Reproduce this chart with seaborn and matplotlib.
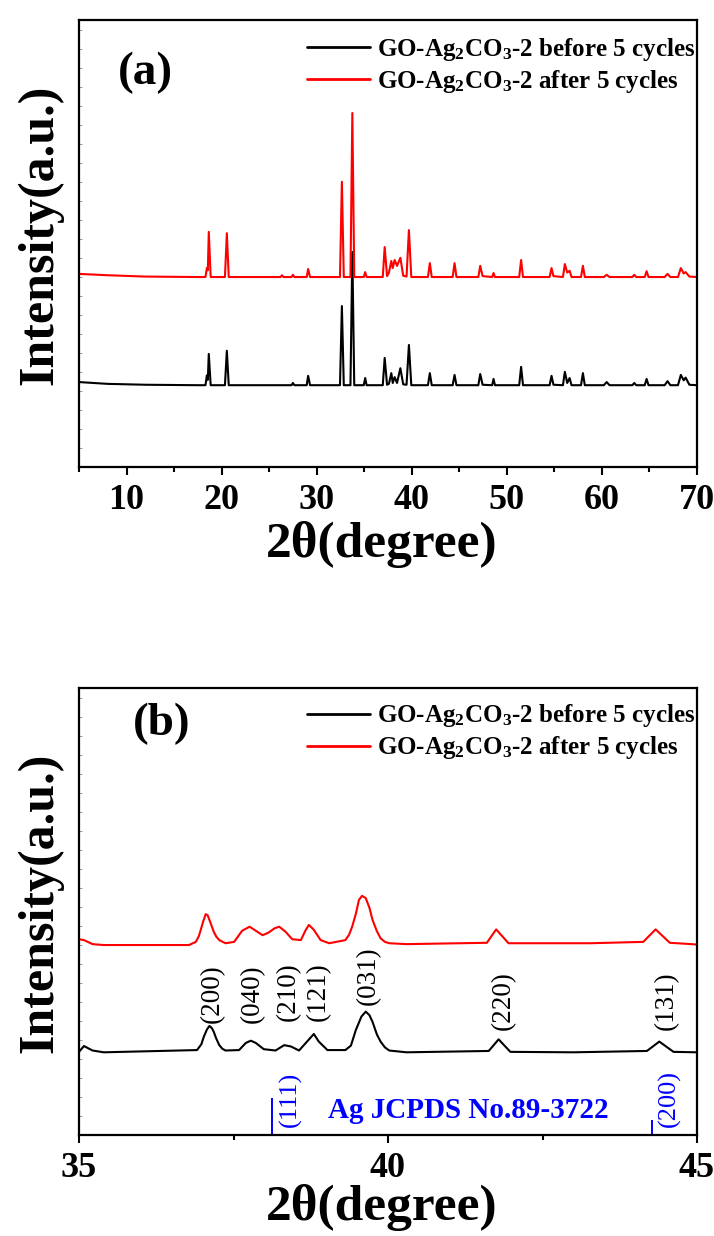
import matplotlib
matplotlib.use("Agg")
import matplotlib.pyplot as plt
import seaborn as sns
import pandas as pd
from matplotlib.ticker import MultipleLocator

# ---------------- data (a): full pattern 5-70 deg ----------------
before_a_2theta = [
    5.0, 8.0, 12.0, 17.5,
    18.3, 18.45, 18.55, 18.65, 18.85,
    20.35, 20.55, 20.75,
    27.35, 27.5, 27.65,
    28.95, 29.1, 29.3,
    32.45, 32.65, 32.85,
    33.55, 33.75, 33.95,
    34.95, 35.1, 35.25,
    36.95, 37.15, 37.4, 37.6, 37.85, 38.0, 38.2, 38.45, 38.8, 39.1,
    39.45, 39.7, 39.95,
    41.7, 41.9, 42.1,
    44.3, 44.5, 44.7,
    47.0, 47.2, 47.45,
    48.45, 48.6, 48.75,
    51.3, 51.5, 51.7,
    54.5, 54.7, 54.9,
    55.9, 56.1, 56.35, 56.6, 56.8,
    57.8, 58.0, 58.2,
    60.2, 60.5, 60.8,
    63.2, 63.4, 63.6,
    64.5, 64.7, 64.9,
    66.6, 66.9, 67.2,
    68.0, 68.3, 68.6, 68.8, 69.2, 70.0]
before_a_int = [
    19.0, 18.6, 18.4, 18.3,
    18.3, 20.5, 19.5, 25.3, 18.3,
    18.3, 26.0, 18.3,
    18.3, 18.8, 18.3,
    18.3, 20.4, 18.3,
    18.3, 36.0, 18.3,
    18.3, 48.1, 18.3,
    18.3, 19.9, 18.3,
    18.3, 24.4, 18.4, 18.6, 21.0, 18.8, 20.1, 18.8, 22.1, 18.5,
    18.4, 27.3, 18.3,
    18.3, 21.0, 18.3,
    18.3, 20.6, 18.3,
    18.3, 20.8, 18.4,
    18.3, 19.7, 18.3,
    18.3, 22.4, 18.3,
    18.3, 20.4, 18.4,
    18.3, 21.3, 18.8, 19.9, 18.3,
    18.3, 21.0, 18.3,
    18.3, 19.0, 18.3,
    18.3, 18.8, 18.3,
    18.3, 19.7, 18.3,
    18.3, 19.2, 18.3,
    18.3, 20.6, 19.4, 20.0, 18.4, 18.3]

after_a_2theta = [
    5.0, 8.0, 12.0, 17.5,
    18.3, 18.45, 18.55, 18.65, 18.85,
    20.35, 20.55, 20.75,
    26.2, 26.35, 26.5,
    27.35, 27.5, 27.65,
    28.95, 29.1, 29.3,
    32.45, 32.65, 32.85,
    33.55, 33.75, 33.95,
    34.95, 35.1, 35.25,
    36.95, 37.15, 37.4, 37.6, 37.85, 38.0, 38.2, 38.45, 38.8, 39.1,
    39.45, 39.7, 39.95,
    41.7, 41.9, 42.1,
    44.3, 44.5, 44.7,
    47.0, 47.2, 47.45,
    48.45, 48.6, 48.75,
    51.3, 51.5, 51.7,
    54.5, 54.7, 54.9,
    55.9, 56.1, 56.35, 56.6, 56.8,
    57.8, 58.0, 58.2,
    60.2, 60.5, 60.8,
    63.2, 63.4, 63.6,
    64.5, 64.7, 64.9,
    66.6, 66.9, 67.2,
    68.0, 68.3, 68.6, 68.8, 69.2, 70.0]
after_a_int = [
    43.2, 42.9, 42.6, 42.5,
    42.5, 44.5, 44.0, 52.6, 42.5,
    42.5, 52.3, 42.5,
    42.5, 42.9, 42.5,
    42.5, 43.0, 42.5,
    42.5, 44.3, 42.5,
    42.5, 63.8, 42.5,
    42.5, 79.2, 42.5,
    42.5, 43.6, 42.5,
    42.5, 49.2, 42.7, 43.5, 46.1, 44.5, 46.3, 45.0, 46.8, 42.8,
    42.6, 53.0, 42.5,
    42.5, 45.6, 42.5,
    42.5, 45.6, 42.5,
    42.5, 45.0, 42.7,
    42.5, 43.4, 42.5,
    42.5, 46.3, 42.5,
    42.5, 44.5, 42.7,
    42.5, 45.4, 43.5, 43.9, 42.5,
    42.5, 45.0, 42.5,
    42.5, 43.0, 42.5,
    42.5, 43.0, 42.5,
    42.5, 43.8, 42.5,
    42.5, 43.2, 42.5,
    42.5, 44.5, 43.3, 43.6, 42.6, 42.5]

# ---------------- data (b): zoom 35-45 deg ----------------
before_b_2theta = [
    35.0, 35.08, 35.22, 35.4,
    36.91, 36.98, 37.02, 37.07, 37.11, 37.15, 37.18, 37.22, 37.27, 37.32, 37.37,
    37.59, 37.70, 37.78, 37.86, 37.99,
    38.18, 38.32, 38.43, 38.56,
    38.69, 38.80, 38.88, 39.02,
    39.31, 39.40, 39.48, 39.57, 39.64, 39.70, 39.75, 39.82, 39.88, 39.95, 40.02,
    40.3,
    41.63, 41.79, 41.98,
    43.0,
    44.19, 44.39, 44.62, 45.0]
before_b_int = [
    18.6, 19.9, 18.9, 18.5,
    19.0, 20.3, 22.0, 23.6, 24.4, 23.9, 23.1, 21.6, 20.1, 19.3, 18.9,
    19.0, 20.6, 21.1, 20.6, 19.2,
    18.9, 20.1, 19.8, 18.9,
    20.9, 22.6, 20.9, 19.0,
    19.0, 20.0, 23.5, 26.5, 27.6, 26.8, 25.3, 22.5, 20.9, 19.6, 18.9,
    18.5,
    18.8, 21.4, 18.6,
    18.5,
    18.8, 20.9, 18.6, 18.5]

after_b_2theta = [
    35.0, 35.08, 35.22, 35.4,
    36.78, 36.89, 36.94, 36.97, 37.01, 37.05, 37.08, 37.10, 37.14, 37.18,
    37.22, 37.27, 37.37,
    37.51, 37.64, 37.76, 37.86, 37.97,
    38.07, 38.16, 38.24, 38.34, 38.45,
    38.59, 38.67, 38.72, 38.80, 38.91, 39.05,
    39.31, 39.37, 39.42, 39.48, 39.53, 39.58, 39.64, 39.70, 39.75, 39.82,
    39.88, 39.95, 40.02,
    40.3,
    41.60, 41.75, 41.95,
    43.27, 44.13, 44.33, 44.56, 44.91, 45.0]
after_b_int = [
    43.8, 43.6, 42.7, 42.5,
    42.5, 43.2, 44.5, 45.9, 47.8, 49.4, 49.2, 48.5, 47.0, 45.5,
    44.4, 43.6, 42.9,
    43.2, 45.7, 46.6, 45.7, 44.7,
    45.3, 46.2, 46.6, 45.5, 43.8,
    43.6, 45.9, 47.0, 45.9, 43.6, 42.9,
    43.6, 44.8, 46.6, 49.5, 52.6, 53.5, 53.0, 50.8, 48.1, 45.6,
    44.0, 43.2, 42.9,
    42.7,
    43.0, 46.0, 42.9,
    42.9, 43.2, 46.0, 43.0, 42.7, 42.6]

hkl_labels = ["(200)", "(040)", "(210)", "(121)", "(031)", "(220)", "(131)"]
hkl_2theta = [37.15, 37.80, 38.39, 38.88, 39.69, 41.87, 44.50]
hkl_label_y = [25.0, 25.0, 25.4, 25.4, 29.1, 23.5, 23.5]

ag_2theta = [38.13, 44.27]
ag_height = [8.3, 3.4]
ag_labels = ["(111)", "(200)"]
ag_label_2theta = [38.42, 44.56]

series_labels = [r"GO-Ag$_2$CO$_3$-2 before 5 cycles",
                 r"GO-Ag$_2$CO$_3$-2 after 5 cycles"]
series_colors = ["#000000", "#ff0000"]

# ---------------- figure ----------------
sns.set_style("white")
plt.rcParams["font.family"] = ["Liberation Serif", "DejaVu Serif"]
plt.rcParams["font.weight"] = "bold"
plt.rcParams["mathtext.default"] = "regular"
for key in ["text.color", "axes.labelcolor", "xtick.color", "ytick.color",
            "axes.edgecolor"]:
    plt.rcParams[key] = "black"

W, H = 714, 1236
fig = plt.figure(figsize=(W / 100, H / 100), dpi=100)
ax_a = fig.add_axes([79 / W, 1 - 467 / H, 618 / W, 447 / H])
ax_b = fig.add_axes([79 / W, 1 - 1135 / H, 618 / W, 447 / H])


def draw(ax, xs, ys):
    for x, y, lab, col in zip(xs, ys, series_labels, series_colors):
        df = pd.DataFrame({"2theta": x, "I": y})
        sns.lineplot(data=df, x="2theta", y="I", ax=ax, color=col,
                     linewidth=1.5, estimator=None, sort=False, label=lab)


def style(ax, xmin, xmax, major, minor, letter, letter_xy, leg_top):
    ax.set_xlim(xmin, xmax)
    ax.set_ylim(0, 100)
    ax.xaxis.set_major_locator(MultipleLocator(major))
    ax.xaxis.set_minor_locator(MultipleLocator(minor))
    ax.yaxis.set_major_locator(MultipleLocator(4.25))
    ax.tick_params(axis="x", which="major", direction="out", length=6,
                   width=1.5, labelsize=26, pad=6, bottom=True, top=False,
                   color="black", labelcolor="black")
    ax.tick_params(axis="x", which="minor", direction="out", length=3.5,
                   width=1.5, bottom=True, top=False, color="black")
    ax.tick_params(axis="y", which="major", direction="in", length=2,
                   width=0.6, color="0.55", left=True, right=False,
                   labelleft=False)
    for lbl in ax.get_xticklabels():
        lbl.set_fontweight("bold")
    for sp in ax.spines.values():
        sp.set_linewidth(1.6)
        sp.set_color("black")
    ax.set_xlabel("2θ(degree)", fontsize=37, fontweight="bold", color="black")
    ax.set_ylabel("Intensity(a.u.)", fontsize=36, fontweight="bold",
                  color="black")
    ax.xaxis.label.set_va("center")
    ax.yaxis.label.set_va("center")
    ax.yaxis.set_label_coords(-0.063, 0.52)
    ax.text(letter_xy[0], letter_xy[1], letter, transform=ax.transAxes,
            fontsize=34, fontweight="bold", ha="center", va="center",
            color="black")
    leg = ax.legend(loc="upper left", bbox_to_anchor=(0.369, leg_top),
                    frameon=False, fontsize=18, handlelength=2.5,
                    handletextpad=0.3, labelspacing=0.2, borderpad=0,
                    borderaxespad=0, labelcolor="black")
    for line in leg.get_lines():
        line.set_linewidth(2)
    for t in leg.get_texts():
        t.set_fontweight("bold")


draw(ax_a, [before_a_2theta, after_a_2theta], [before_a_int, after_a_int])
style(ax_a, 5, 70, 10, 5, "(a)", (0.107, 0.881), 0.965)
ax_a.xaxis.set_label_coords(0.489, -0.174)

draw(ax_b, [before_b_2theta, after_b_2theta], [before_b_int, after_b_int])
style(ax_b, 35, 45, 5, 2.5, "(b)", (0.134, 0.919), 0.968)
ax_b.xaxis.set_label_coords(0.489, -0.163)

for lab, x, y in zip(hkl_labels, hkl_2theta, hkl_label_y):
    ax_b.text(x, y, lab, rotation=90, ha="center", va="bottom",
              fontsize=19.5, fontweight="normal", color="black")

ax_b.vlines(ag_2theta, 0, ag_height, colors="#0000ff", linewidth=1.4)
for lab, x in zip(ag_labels, ag_label_2theta):
    ax_b.text(x, 1.8, lab, rotation=90, ha="center", va="bottom",
              fontsize=19, fontweight="normal", color="#0000ff")
ax_b.text(41.3, 3.8, "Ag JCPDS No.89-3722", ha="center", va="baseline",
          fontsize=21, fontweight="bold", color="#0000ff")

fig.savefig("out.png", dpi=100)
